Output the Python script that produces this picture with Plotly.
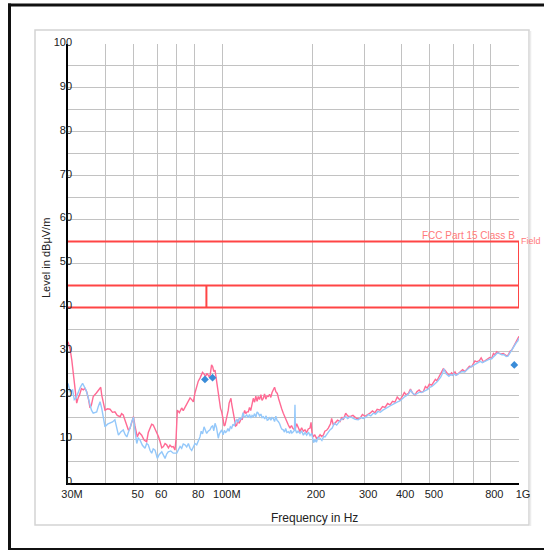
import math
import plotly.graph_objects as go

# ---------------- data ----------------
pk_freq = [30, 30.5, 30.9, 31.4, 31.8, 32.1, 32.5, 32.8, 33.3, 33.8, 34.2, 34.7, 35.2, 35.6, 36.0, 36.5,
           37.4, 38.3, 38.7, 39.0, 39.5, 40.0, 40.8, 41.6, 42.4, 43.2, 44.0, 45.0, 45.5, 46.1, 46.8, 47.4,
           48.0, 48.6, 49.2, 49.9, 50.5, 51.0, 51.4, 52.2, 53.2, 54.2, 55.3, 56.0, 56.8, 57.5, 58.2, 59.0,
           59.8, 60.6, 61.4, 62.2, 63.0, 63.8, 64.6, 65.5, 66.3, 67.2, 68.0, 68.9, 69.5, 70.2, 71.3, 72.6,
           73.5, 74.5, 75.5, 76.5, 77.5, 78.5, 79.5, 80.5, 81.6, 82.6, 83.7, 84.5, 85.4, 86.4, 87.5, 88.4,
           89.3, 90.3, 91.0, 91.6, 92.4, 93.2, 94.1, 95.0, 95.8, 96.5, 97.3, 98.2, 99.1, 100.2, 101.0, 101.7,
           102.5, 103.3, 104.3, 105.0, 105.8, 106.5, 107.1, 108.0, 108.5, 109.5, 110.5, 111.4, 112.5, 113.4,
           114.3, 115.2, 116.2, 117.2, 118.5, 119.5, 120.7, 121.9, 123.0, 124.2, 125.5, 126.7, 128.0, 129.2,
           130.5, 131.7, 133.0, 134.4, 135.6, 137.0, 138.3, 139.7, 141.0, 142.4, 143.8, 145.2, 146.6, 148.0,
           149.5, 151.0, 152.7, 154.3, 156.0, 158.0, 160.0, 162.2, 164.3, 166.4, 168.5, 170.5, 172.5, 175.2,
           177.5, 180.0, 182.2, 184.5, 187.0, 189.4, 191.8, 194.3, 196.9, 198.5, 200.0, 202.0, 204.5, 207.0,
           210.1, 213.0, 215.5, 218.4, 221.0, 224.0, 227.0, 231.0, 233.0, 236.1, 240.0, 244.0, 248.7, 252.0,
           255.0, 259.9, 264.0, 268.8, 275.0, 283.1, 290.5, 296.0, 302.0, 308.0, 314.0, 320.0, 326.0, 332.0,
           339.3, 346.0, 353.0, 360.0, 366.9, 374.0, 381.0, 388.0, 396.4, 404.0, 410.0, 416.0, 423.0, 430.0,
           437.0, 445.5, 452.0, 460.0, 467.0, 475.2, 483.0, 490.0, 498.0, 507.3, 515.0, 522.0, 528.0, 534.0,
           540.0, 548.0, 555.0, 562.5, 570.0, 577.0, 585.0, 592.0, 600.0, 608.0, 616.2, 625.0, 635.0, 645.0,
           657.3, 667.0, 680.0, 692.4, 700.0, 710.0, 719.7, 735.0, 745.0, 757.8, 770.0, 785.0, 796.0, 808.8,
           820.0, 830.0, 840.9, 855.0, 870.0, 885.3, 900.0, 910.0, 920.4, 933.0, 945.0, 957.0, 969.6, 980.0,
           990.0, 1000.0]
pk_level = [32.2, 30.5, 28.0, 24.2, 21.0, 18.2, 19.5, 20.0, 21.5, 21.2, 21.6, 20.8, 19.0, 17.1, 17.8, 19.7,
            20.5, 21.3, 21.8, 20.0, 18.5, 16.6, 16.9, 16.8, 16.1, 16.2, 15.4, 15.1, 15.8, 15.5, 14.2, 13.2,
            12.0, 12.5, 13.8, 15.1, 13.0, 11.2, 10.5, 11.5, 10.9, 9.8, 9.4, 11.5, 12.8, 13.4, 13.2, 12.4,
            11.7, 10.6, 9.4, 8.0, 8.3, 9.0, 8.7, 8.0, 8.6, 8.2, 8.3, 7.5, 10.0, 16.6, 16.0, 17.1,
            16.5, 17.3, 17.8, 18.8, 19.4, 19.0, 18.5, 20.5, 21.9, 23.2, 23.9, 24.5, 25.2, 24.8, 24.3, 25.0,
            24.6, 24.0, 25.5, 26.9, 26.5, 25.4, 25.7, 24.0, 21.9, 20.2, 18.9, 17.0, 16.2, 14.5, 13.0, 13.2,
            14.2, 15.5, 16.6, 18.2, 19.0, 19.3, 18.0, 16.5, 15.5, 14.0, 13.0, 13.2, 14.5, 13.6,
            14.0, 14.8, 14.4, 15.5, 16.5, 15.8, 16.2, 16.2, 17.2, 16.5, 18.5, 19.3, 18.4, 19.8,
            18.6, 19.7, 19.0, 20.1, 18.8, 19.3, 20.3, 19.1, 19.8, 19.7, 20.2, 19.5, 20.6, 21.3,
            21.8, 20.8, 20.4, 19.2, 17.8, 16.9, 15.9, 14.8, 14.0, 13.2, 12.5, 13.1, 12.4, 12.1,
            13.5, 12.3, 11.7, 12.6, 11.8, 12.1, 11.5, 12.3, 12.5, 13.8, 11.4, 10.5, 11.0, 10.2,
            10.4, 11.0, 10.6, 10.9, 11.8, 12.0, 12.5, 13.5, 14.7, 13.2, 13.8, 14.3, 14.0, 15.0,
            14.4, 15.9, 15.3, 15.1, 15.4, 14.7, 14.7, 15.6, 15.2, 15.5, 15.9, 16.4, 16.0, 16.8,
            16.6, 17.4, 17.2, 18.1, 17.8, 18.6, 18.4, 19.6, 18.9, 19.8, 20.6, 20.1, 20.4, 21.4,
            20.5, 20.0, 20.8, 21.2, 20.7, 20.8, 22.0, 21.6, 22.5, 22.3, 23.0, 23.6, 23.3, 23.9,
            24.5, 25.2, 26.0, 25.7, 25.0, 24.7, 24.6, 25.1, 24.7, 25.3, 24.6, 25.0, 25.3, 25.8,
            25.4, 26.0, 26.6, 26.5, 27.0, 27.8, 27.6, 27.9, 28.5, 27.6, 27.9, 28.2, 28.6, 28.4,
            29.5, 29.2, 29.9, 29.6, 29.4, 29.5, 29.0, 28.9, 29.2, 30.0, 30.3, 31.0, 31.8, 32.4,
            32.6, 33.4]

av_freq = [30, 30.5, 31.1, 31.5, 31.9, 32.5, 33.0, 33.6, 34.0, 34.5, 35.0, 35.6, 36.0, 36.5, 37.5, 38.0,
           38.5, 39.0, 39.5, 40.0, 40.8, 41.6, 42.4, 43.2, 43.8, 44.4, 45.2, 46.1, 46.8, 47.4, 48.0, 48.6,
           49.2, 49.9, 50.5, 51.2, 51.8, 52.5, 53.5, 54.6, 55.3, 56.0, 56.8, 57.5, 58.2, 59.0, 60.1, 61.0,
           62.2, 63.0, 63.8, 64.6, 65.4, 66.7, 68.0, 69.9, 70.8, 71.7, 72.6, 73.5, 74.5, 75.5, 76.5, 77.5,
           78.5, 79.5, 80.5, 81.6, 82.6, 83.7, 84.5, 85.4, 86.4, 87.2, 88.2, 89.2, 90.5, 91.5, 92.4, 93.2,
           94.1, 95.2, 96.5, 97.3, 98.2, 99.1, 100.2, 101.2, 102.1, 103.0, 104.0, 105.0, 106.0, 107.1, 108.2,
           109.3, 110.4, 111.4, 112.6, 113.7, 114.8, 115.8, 117.0, 118.1, 119.2, 120.4, 121.8, 123.0, 124.4,
           125.5, 126.7, 128.0, 129.3, 130.5, 131.7, 133.0, 134.4, 135.7, 137.0, 138.5, 140.0, 141.2, 142.4,
           143.8, 145.2, 146.6, 148.0, 149.5, 151.0, 152.5, 153.9, 155.5, 157.0, 158.5, 160.0, 161.5, 163.0,
           164.5, 166.3, 168.0, 169.5, 171.0, 172.9, 174.5, 175.2, 175.8, 177.5, 179.5, 182.2, 184.5, 187.0,
           189.5, 191.9, 194.5, 197.0, 199.5, 201.0, 202.5, 204.7, 207.0, 209.5, 212.9, 216.0, 219.0, 221.3,
           225.0, 230.0, 234.0, 238.0, 242.3, 246.0, 250.0, 255.1, 260.0, 264.0, 268.8, 275.0, 280.0, 286.6,
           292.0, 298.0, 304.0, 310.0, 316.0, 322.0, 328.0, 334.0, 340.0, 347.0, 354.0, 361.0, 368.0, 375.0,
           382.0, 389.0, 396.0, 403.0, 410.0, 417.0, 424.0, 431.0, 438.0, 446.0, 453.0, 461.0, 468.0, 476.0,
           484.0, 492.0, 500.0, 508.0, 516.0, 523.0, 530.0, 537.0, 544.0, 551.0, 558.0, 565.0, 572.0, 580.0,
           588.0, 596.0, 604.0, 612.0, 622.0, 632.0, 642.0, 654.0, 666.0, 678.0, 690.0, 702.0, 714.0, 726.0,
           740.0, 752.0, 765.0, 780.0, 794.0, 808.0, 820.0, 832.0, 845.0, 860.0, 875.0, 890.0, 905.0, 918.0,
           930.0, 943.0, 955.0, 968.0, 980.0, 990.0, 1000.0]
av_level = [22.7, 20.8, 21.2, 19.0, 19.3, 20.8, 21.8, 22.7, 22.0, 21.2, 19.8, 17.8, 16.6, 15.9, 16.2, 17.5,
            18.5, 17.0, 14.7, 12.8, 13.4, 13.6, 13.9, 14.4, 12.5, 10.9, 11.6, 12.1, 11.0, 10.5, 11.6, 12.5,
            13.9, 15.0, 12.0, 9.0, 10.2, 9.8, 8.6, 7.9, 9.0, 8.7, 7.4, 6.8, 7.8, 7.5, 5.6, 6.5,
            7.1, 6.2, 5.6, 6.6, 7.1, 7.3, 6.8, 6.8, 7.6, 8.3, 7.9, 8.9, 8.7, 8.2, 9.0, 7.9,
            7.4, 8.3, 9.0, 8.7, 9.6, 10.5, 11.8, 11.2, 12.8, 12.1, 11.3, 11.8, 12.1, 12.8, 13.0, 11.9,
            13.6, 12.6, 10.2, 11.2, 11.6, 12.1, 11.0, 12.0, 11.5, 11.7, 12.4, 11.8, 12.8, 12.5, 13.4,
            13.0, 14.0, 14.4, 13.8, 14.9, 14.5, 14.7, 16.0, 15.0, 15.2, 15.5, 14.9, 15.6, 14.8,
            15.4, 15.1, 15.8, 15.0, 16.2, 15.9, 15.3, 15.7, 14.9, 15.1, 14.6, 15.3, 14.3, 14.4,
            15.0, 14.3, 14.9, 14.7, 14.0, 15.2, 14.2, 14.0, 13.5, 12.7, 12.2, 12.1, 11.6, 12.4,
            11.5, 11.7, 11.3, 12.0, 11.4, 11.7, 12.0, 17.8, 12.2, 11.4, 11.8, 11.3, 11.9, 10.9,
            11.5, 10.9, 11.6, 10.8, 11.3, 10.2, 9.2, 9.8, 9.3, 10.4, 10.2, 9.7, 10.6, 10.5,
            11.2, 12.1, 12.5, 13.6, 13.2, 13.8, 14.4, 14.7, 15.1, 14.7, 15.1, 14.8, 14.5, 14.4,
            14.9, 14.7, 15.0, 15.6, 15.3, 15.9, 15.7, 16.3, 16.1, 16.6, 17.0, 17.3, 17.6, 17.9,
            18.3, 18.5, 18.7, 19.2, 19.6, 19.9, 20.3, 21.1, 20.4, 20.1, 20.4, 20.7, 20.6, 20.9,
            21.2, 21.3, 21.8, 22.0, 22.4, 22.7, 23.1, 23.6, 24.1, 24.9, 26.0, 25.0, 24.6, 24.3,
            24.7, 24.5, 24.9, 24.5, 24.8, 25.1, 25.4, 25.3, 25.8, 26.2, 26.5, 26.8, 27.2, 27.5,
            27.7, 27.4, 27.7, 28.0, 28.2, 28.3, 28.8, 29.2, 29.6, 29.5, 29.2, 29.2, 28.8, 28.9,
            29.5, 30.3, 30.9, 31.6, 32.0, 32.3, 33.0]

marker_freq = [87.0, 92.3, 964.0]
marker_level = [23.6, 24.0, 26.9]

limit_freq = [30, 1000, None, 30, 1000, None, 30, 1000, None, 88, 88, None, 1000, 1000]
limit_level = [55, 55, None, 45, 45, None, 40, 40, None, 40, 45, None, 40, 55]
limit_label = "FCC Part 15 Class B"
limit_label2 = "Field"

x_tickvals = [30, 40, 50, 60, 70, 80, 100, 200, 300, 400, 500, 600, 700, 800, 1000]
x_ticktext = ["30M", "", "50", "60", "", "80", "100M", "200", "300", "400", "500", "", "", "800", "1G"]
y_tickvals = [0, 10, 20, 30, 40, 50, 60, 70, 80, 90, 100]
y_ticktext = ["0", "10", "20", "30", "40", "50", "60", "70", "80", "90", "100"]

x_title = "Frequency in Hz"
y_title = "Level in dBµV/m"

# ---------------- figure ----------------
W, H = 544, 550
L, R, T, B = 68, 25, 44, 67
pw, ph = W - L - R, H - T - B


def px(x):
    return (x - L) / pw


def py(y):
    return (H - B - y) / ph


FONT = "Liberation Sans, Arial, sans-serif"

fig = go.Figure()
fig.add_trace(go.Scatter(x=limit_freq, y=limit_level, mode="lines",
                         line=dict(color="#ff4545", width=2), hoverinfo="skip", showlegend=False))
fig.add_trace(go.Scatter(x=pk_freq, y=pk_level, mode="lines",
                         line=dict(color="#ff6a94", width=1.4), showlegend=False))
fig.add_trace(go.Scatter(x=av_freq, y=av_level, mode="lines",
                         line=dict(color="#94c8fa", width=1.4), showlegend=False))
fig.add_trace(go.Scatter(x=marker_freq, y=marker_level, mode="markers",
                         marker=dict(symbol="diamond", size=6, color="#3a8cd8"), showlegend=False))

grid = "#c2c2c2"
fig.update_xaxes(type="log", range=[math.log10(30), math.log10(1000)],
                 tickvals=x_tickvals, ticktext=x_ticktext, showgrid=True, gridcolor=grid, gridwidth=1,
                 showline=True, linecolor="black", linewidth=1.5, ticks="", zeroline=False,
                 tickfont=dict(family=FONT, size=11, color="#222"), ticklabelshift=4)
fig.update_yaxes(range=[0, 100], tickvals=y_tickvals, ticktext=y_ticktext,
                 showgrid=True, gridcolor=grid, gridwidth=1,
                 minor=dict(dtick=5, showgrid=True, gridcolor=grid, gridwidth=1, ticks=""),
                 showline=True, linecolor="black", linewidth=1.5, ticks="", zeroline=False,
                 tickfont=dict(family=FONT, size=11, color="#222"), ticklabelstandoff=-8,
                 ticklabelshift=-2)

shapes = [
    # grey panel
    dict(type="rect", xref="paper", yref="paper", x0=px(35), x1=px(529), y0=py(525), y1=py(30),
         line=dict(color="#d4d4d4", width=1.5), layer="below"),
    dict(type="line", xref="paper", yref="paper", x0=px(530.5), x1=px(530.5), y0=py(526), y1=py(31),
         line=dict(color="#ececec", width=1.5), layer="below"),
    # black frame
    dict(type="line", xref="paper", yref="paper", x0=px(8), x1=px(545), y0=py(5), y1=py(5),
         line=dict(color="#111", width=3)),
    dict(type="line", xref="paper", yref="paper", x0=px(9.5), x1=px(9.5), y0=py(3.5), y1=py(551),
         line=dict(color="#111", width=3)),
    dict(type="line", xref="paper", yref="paper", x0=px(8), x1=px(545), y0=py(549), y1=py(549),
         line=dict(color="#111", width=2)),
]

annotations = [
    dict(text=limit_label, xref="x", yref="y", x=math.log10(1000), y=55, xanchor="right", yanchor="bottom",
         xshift=-2, yshift=-1, showarrow=False, font=dict(family=FONT, size=10, color="#ff7a7a")),
    dict(text=limit_label2, xref="x", yref="y", x=math.log10(1000), y=55, xanchor="left", yanchor="middle",
         xshift=0, yshift=1, showarrow=False, font=dict(family=FONT, size=9, color="#ff7a7a")),
    dict(text=x_title, xref="paper", yref="paper", x=px(314), y=py(518), xanchor="center", yanchor="middle",
         showarrow=False, font=dict(family=FONT, size=12, color="#222")),
    dict(text=y_title, xref="paper", yref="paper", x=px(46), y=py(258), xanchor="center", yanchor="middle",
         textangle=-90, showarrow=False, font=dict(family=FONT, size=11, color="#222")),
]

fig.update_layout(width=W, height=H, margin=dict(l=L, r=R, t=T, b=B),
                  paper_bgcolor="white", plot_bgcolor="white",
                  shapes=shapes, annotations=annotations, showlegend=False,
                  font=dict(family=FONT))

fig.write_html("out.html", config={"displayModeBar": False},
               post_script="document.body.style.margin='0';document.body.style.overflow='hidden';")
